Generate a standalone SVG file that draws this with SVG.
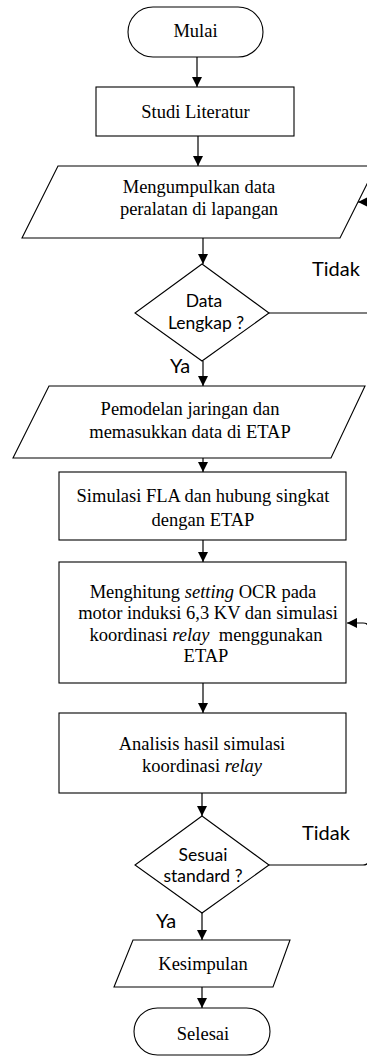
<svg xmlns="http://www.w3.org/2000/svg" width="367" height="1056" viewBox="0 0 367 1056">
<style>
.shape{fill:#fff;stroke:#000;stroke-width:1.1}
.t{font-family:"Liberation Serif","Times New Roman",serif;font-size:18.5px;fill:#000;text-anchor:middle}
.s{font-family:Lato,"Noto Sans",sans-serif;font-size:17.5px;fill:#000;text-anchor:middle}
.lbl{font-family:Lato,"Noto Sans",sans-serif;font-size:20px;fill:#000}
.c{fill:none;stroke:#000;stroke-width:1.2}
</style>
<defs>
<marker id="arr" markerUnits="userSpaceOnUse" markerWidth="10" markerHeight="10" refX="10" refY="5" orient="auto">
<path d="M0,0 L10,5 L0,10 z" fill="#000"/>
</marker>
</defs>
<rect width="367" height="1056" fill="#fff"/>
<g id="connectors">
<path class="c" d="M197,57 V87" marker-end="url(#arr)"/>
<path class="c" d="M198,136 V166" marker-end="url(#arr)"/>
<path class="c" d="M203,238 V264" marker-end="url(#arr)"/>
<path class="c" d="M203,361 V386" marker-end="url(#arr)"/>
<path class="c" d="M203,458 V472" marker-end="url(#arr)"/>
<path class="c" d="M203,540 V562" marker-end="url(#arr)"/>
<path class="c" d="M203,683 V713" marker-end="url(#arr)"/>
<path class="c" d="M202,793 V816" marker-end="url(#arr)"/>
<path class="c" d="M202,913 V940" marker-end="url(#arr)"/>
<path class="c" d="M202,987 V1008" marker-end="url(#arr)"/>
<path class="c" d="M269,313 H368 Q375,313 375,306 V209 Q375,202 368,202 H358" marker-end="url(#arr)"/>
<path class="c" d="M269,865 H363 Q369,865 369,859 V629 Q369,623 363,623 H347" marker-end="url(#arr)"/>
<text class="lbl" x="312" y="276">Tidak</text>
<text class="lbl" x="170" y="373">Ya</text>
<text class="lbl" x="302" y="840">Tidak</text>
<text class="lbl" x="156" y="928">Ya</text>
</g>
<g id="mulai">
<rect class="shape" x="128" y="7" width="135" height="50" rx="25" ry="25"/>
<text class="t" x="195.5" y="37">Mulai</text>
</g>
<g id="studi">
<rect class="shape" x="96" y="87" width="198" height="49"/>
<text class="t" x="195.5" y="118">Studi Literatur</text>
</g>
<g id="data">
<polygon class="shape" points="58,166 376,166 340,238 22,238"/>
<text class="t" x="199" y="193">Mengumpulkan data</text>
<text class="t" x="199" y="215">peralatan di lapangan</text>
</g>
<g id="cek1">
<polygon class="shape" points="202,264 269,313 202,361 135,313"/>
<text class="s" x="204" y="307">Data</text>
<text class="s" x="206" y="329">Lengkap ?</text>
</g>
<g id="model">
<polygon class="shape" points="49,386 365,386 331,458 13,458"/>
<text class="t" x="190" y="415">Pemodelan jaringan dan</text>
<text class="t" x="190" y="438">memasukkan data di ETAP</text>
</g>
<g id="fla">
<rect class="shape" x="59" y="472" width="287" height="68"/>
<text class="t" x="203" y="502">Simulasi FLA dan hubung singkat</text>
<text class="t" x="203" y="526">dengan ETAP</text>
</g>
<g id="ocr">
<rect class="shape" x="59" y="562" width="287" height="121"/>
<text class="t" x="203" y="598">Menghitung <tspan font-style="italic">setting</tspan> OCR pada</text>
<text class="t" x="208" y="619">motor induksi 6,3 KV dan simulasi</text>
<text class="t" x="206" y="641" xml:space="preserve" style="white-space:pre">koordinasi <tspan font-style="italic">relay</tspan>  menggunakan</text>
<text class="t" x="206" y="662">ETAP</text>
</g>
<g id="analisis">
<rect class="shape" x="59" y="713" width="287" height="80"/>
<text class="t" x="202" y="750">Analisis hasil simulasi</text>
<text class="t" x="202" y="772">koordinasi <tspan font-style="italic">relay</tspan></text>
</g>
<g id="cek2">
<polygon class="shape" points="202,816 269,865 202,913 135,865"/>
<text class="s" x="203" y="861">Sesuai</text>
<text class="s" x="203" y="882">standard ?</text>
</g>
<g id="kesimpulan">
<polygon class="shape" points="133,940 290,940 273,987 114,987"/>
<text class="t" x="203" y="970">Kesimpulan</text>
</g>
<g id="selesai">
<rect class="shape" x="134" y="1008" width="136" height="47" rx="23.5" ry="23.5"/>
<text class="t" x="203" y="1040">Selesai</text>
</g>
</svg>
